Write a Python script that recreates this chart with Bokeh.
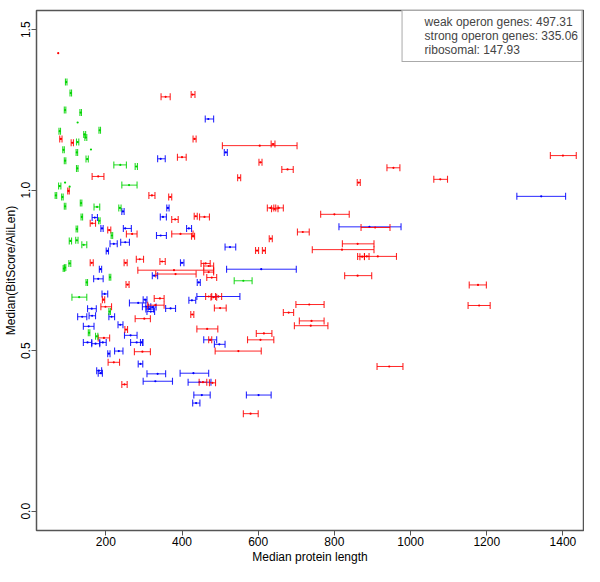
import numpy as np
from bokeh.plotting import figure
from bokeh.models import Range1d, FixedTicker, ColumnDataSource, Legend, LegendItem
from bokeh.embed import file_html
from bokeh.resources import INLINE

# ---------------- data ----------------
# weak operon genes (red): median length, error-bar low, error-bar high, median score
weak_x  = [75, 82, 112, 102, 180, 357, 428, 433, 400, 321, 369, 382, 436, 459, 164, 209, 269, 396, 429,
           163, 252, 289, 348, 462, 379, 383, 257, 194, 342, 199, 330, 427, 301, 253, 195, 296, 221, 249,
           604, 639, 606, 677, 550, 864, 955, 632, 643, 654, 800, 907, 717, 633, 597, 615, 861, 820, 914,
           873, 885, 861, 470, 470, 478, 470, 483, 496, 500, 734, 680, 740, 738, 466, 615, 606, 474, 548,
           944, 580, 1400, 1078, 1177, 1180, 455, 480]
weak_lo = [75, 79, 109, 100, 164, 345, 424, 429, 388, 313, 365, 373, 432, 446, 159, 205, 254, 373, 425,
           159, 248, 280, 342, 450, 284, 331, 253, 191, 327, 187, 310, 423, 277, 250, 180, 275, 206, 242,
           506, 634, 602, 662, 546, 860, 938, 624, 635, 646, 764, 870, 703, 629, 593, 611, 821, 742, 861,
           867, 879, 827, 457, 457, 465, 462, 476, 488, 485, 699, 666, 708, 695, 439, 595, 572, 470, 487,
           912, 561, 1367, 1061, 1154, 1151, 445, 472]
weak_hi = [75, 85, 115, 104, 195, 369, 434, 437, 411, 329, 373, 390, 440, 472, 173, 213, 282, 429, 433,
           167, 256, 299, 356, 474, 483, 437, 261, 197, 353, 215, 353, 431, 317, 257, 210, 317, 236, 256,
           702, 644, 610, 692, 554, 868, 972, 641, 652, 666, 839, 946, 734, 637, 601, 619, 904, 904, 963,
           879, 891, 898, 483, 483, 491, 478, 491, 504, 516, 773, 693, 773, 783, 494, 636, 641, 478, 608,
           980, 600, 1435, 1097, 1199, 1209, 465, 488]
weak_y  = [1.427, 1.160, 1.148, 0.998, 1.043, 1.291, 1.298, 1.160, 1.103, 0.984, 0.979, 0.909, 0.919, 0.917,
           0.897, 0.876, 0.864, 0.864, 0.857, 0.774, 0.774, 0.785, 0.778, 0.772, 0.751, 0.739, 0.706, 0.659,
           0.663, 0.637, 0.642, 0.613, 0.600, 0.566, 0.540, 0.497, 0.464, 0.395, 1.139, 1.144, 1.087, 1.065,
           1.039, 1.024, 1.070, 0.945, 0.942, 0.945, 0.925, 0.884, 0.870, 0.849, 0.812, 0.812, 0.833, 0.815,
           0.794, 0.793, 0.794, 0.734, 0.764, 0.745, 0.728, 0.669, 0.667, 0.669, 0.633, 0.644, 0.619, 0.593,
           0.578, 0.568, 0.554, 0.534, 0.534, 0.499, 0.451, 0.304, 1.108, 1.034, 0.705, 0.641, 0.402, 0.400]

# strong operon genes (blue)
strong_x  = [469, 344, 515, 245, 363, 350, 171, 190, 251, 418, 344, 221, 251, 204, 400, 327, 444, 186, 180,
             197, 285, 303, 426, 307, 315, 322, 318, 370, 163, 164, 138, 155, 215, 238, 265, 152, 173, 192,
             281, 294, 234, 208, 291, 182, 186, 336, 330, 430, 446, 452, 437, 608, 892, 526, 495, 474, 498,
             601, 1343]
strong_lo = [461, 336, 511, 242, 360, 343, 164, 187, 246, 412, 333, 211, 239, 201, 396, 322, 440, 183, 168,
             190, 262, 298, 418, 296, 305, 312, 308, 357, 152, 156, 126, 141, 208, 232, 249, 141, 163, 184,
             265, 291, 223, 205, 285, 176, 180, 308, 298, 395, 416, 431, 428, 517, 812, 513, 439, 457, 485,
             569, 1279]
strong_hi = [483, 356, 519, 248, 366, 359, 178, 193, 267, 425, 359, 230, 262, 207, 405, 336, 448, 189, 193,
             205, 305, 308, 436, 318, 325, 332, 328, 383, 175, 173, 150, 169, 223, 245, 282, 163, 184, 201,
             297, 297, 245, 211, 297, 189, 191, 357, 375, 470, 476, 474, 447, 700, 975, 541, 552, 491, 513,
             634, 1407]
strong_y  = [1.222, 1.098, 1.118, 0.934, 0.945, 0.917, 0.915, 0.881, 0.881, 0.881, 0.859, 0.833, 0.838, 0.811,
             0.774, 0.734, 0.713, 0.754, 0.724, 0.677, 0.649, 0.659, 0.657, 0.637, 0.630, 0.636, 0.622, 0.632,
             0.631, 0.609, 0.606, 0.576, 0.606, 0.581, 0.548, 0.526, 0.522, 0.526, 0.526, 0.526, 0.499, 0.491,
             0.459, 0.438, 0.430, 0.428, 0.405, 0.430, 0.402, 0.362, 0.337, 0.754, 0.886, 0.823, 0.669, 0.534,
             0.520, 0.362, 0.981]

# ribosomal (green)
ribo_x  = [96, 108, 93, 134, 126, 184, 144, 147, 126, 161, 124, 93, 151, 125, 238, 280, 261, 93, 105, 93,
           135, 177, 237, 137, 183, 124, 216, 107, 124, 142, 105, 93, 150, 211, 130, 210, 156, 176, 561, 79,
           89, 69, 79, 86, 90]
ribo_lo = [94, 106, 91, 132, 126, 182, 142, 145, 123, 161, 122, 91, 148, 123, 221, 277, 242, 93, 105, 91,
           133, 169, 234, 135, 181, 122, 214, 104, 121, 137, 103, 91, 148, 209, 111, 208, 154, 173, 537, 77,
           87, 67, 76, 84, 88]
ribo_hi = [98, 110, 95, 136, 126, 186, 147, 150, 129, 161, 126, 95, 154, 127, 254, 283, 282, 93, 105, 95,
           137, 184, 240, 139, 185, 126, 218, 110, 127, 150, 108, 95, 152, 213, 150, 212, 158, 179, 584, 81,
           91, 71, 82, 88, 92]
ribo_y  = [1.337, 1.303, 1.250, 1.242, 1.211, 1.187, 1.174, 1.164, 1.150, 1.127, 1.118, 1.092, 1.097, 1.068,
           1.079, 1.074, 1.016, 1.024, 1.011, 0.950, 0.960, 0.948, 0.945, 0.917, 0.905, 0.879, 0.859, 0.842,
           0.844, 0.830, 0.772, 0.759, 0.713, 0.729, 0.667, 0.622, 0.556, 0.545, 0.718, 1.184, 1.126, 0.984,
           1.013, 0.979, 0.756]

legend_labels = ["weak operon genes: 497.31", "strong operon genes: 335.06", "ribosomal: 147.93"]
x_ticks = [200, 400, 600, 800, 1000, 1200, 1400]
y_ticks = [0.0, 0.5, 1.0, 1.5]
y_tick_labels = ["0.0", "0.5", "1.0", "1.5"]

RED, BLUE, GREEN = "#FF0000", "#0000FF", "#00D400"
FONT = "Liberation Sans"
FRAME = "#555555"

p = figure(width=584, height=566, x_range=Range1d(18, 1454), y_range=Range1d(-0.06, 1.56),
           output_backend="svg", toolbar_location=None,
           min_border_top=10, min_border_right=1, min_border_left=10, min_border_bottom=10,
           x_axis_label="Median protein length", y_axis_label="Median(BitScore/AliLen)")
p.xgrid.visible = False
p.ygrid.visible = False
p.outline_line_color = FRAME
p.outline_line_width = 1.5
p.background_fill_color = "white"

for ax in (p.xaxis[0], p.yaxis[0]):
    ax.axis_line_color = None
    ax.major_tick_out = 5
    ax.major_tick_in = 0
    ax.minor_tick_out = 0
    ax.minor_tick_in = 0
    ax.major_tick_line_color = FRAME
    ax.major_label_text_font = FONT
    ax.major_label_text_font_size = "12px"
    ax.major_label_text_color = "black"
    ax.axis_label_text_font = FONT
    ax.axis_label_text_font_size = "12px"
    ax.axis_label_text_font_style = "normal"
    ax.axis_label_text_color = "black"
    ax.major_label_standoff = 1
    ax.axis_label_standoff = 1

p.xaxis.ticker = FixedTicker(ticks=x_ticks)
p.yaxis.ticker = FixedTicker(ticks=y_ticks)
p.yaxis.major_label_overrides = {t: l for t, l in zip(y_ticks, y_tick_labels)}
p.yaxis.major_label_orientation = "vertical"


def draw(xs, lo, hi, ys, color):
    xs, lo, hi, ys = map(np.asarray, (xs, lo, hi, ys))
    m = hi > lo
    p.segment(x0=lo[m], y0=ys[m], x1=hi[m], y1=ys[m], line_color=color, line_width=1.0, line_alpha=0.85)
    p.scatter(x=np.concatenate([lo[m], hi[m]]), y=np.concatenate([ys[m], ys[m]]), marker="dash",
              angle=np.pi / 2, size=7, line_color=color, line_width=1.1, line_alpha=0.85)
    p.scatter(x=xs, y=ys, size=2.2, fill_color=color, line_color=None)


draw(strong_x, strong_lo, strong_hi, strong_y, BLUE)
draw(weak_x, weak_lo, weak_hi, weak_y, RED)
draw(ribo_x, ribo_lo, ribo_hi, ribo_y, GREEN)

items = []
for lab, col in zip(legend_labels, (RED, BLUE, GREEN)):
    r = p.scatter(x="x", y="y", source=ColumnDataSource(data=dict(x=[], y=[])), size=7,
                  fill_color=col, line_color=None)
    items.append(LegendItem(label=lab, renderers=[r]))

legend = Legend(items=items, location="top_right", margin=0, padding=4, spacing=0,
                label_text_font=FONT, label_text_font_size="12px", label_height=13,
                glyph_height=13, glyph_width=14, label_standoff=4,
                border_line_color=FRAME, border_line_width=1.5, background_fill_alpha=1)
p.add_layout(legend)

open("out.html", "w").write(file_html(p, INLINE))
